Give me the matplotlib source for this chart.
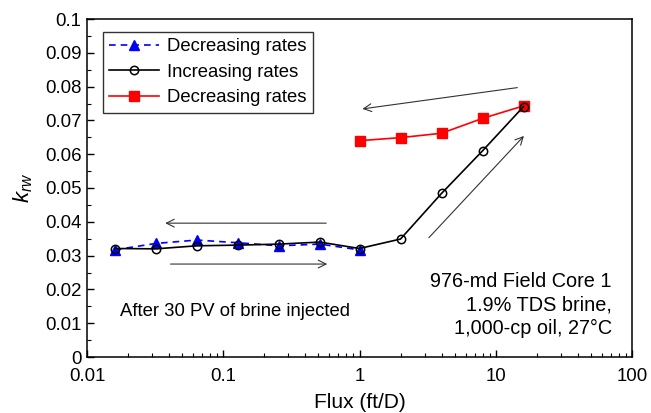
import matplotlib
matplotlib.use("Agg")
import matplotlib.pyplot as plt
from matplotlib.ticker import MultipleLocator, LogLocator, NullFormatter, FixedLocator, FixedFormatter

plt.rcParams['font.family'] = ['Liberation Sans', 'DejaVu Sans']
plt.rcParams['mathtext.fontset'] = 'custom'
plt.rcParams['mathtext.it'] = 'Liberation Sans:italic'
plt.rcParams['mathtext.rm'] = 'Liberation Sans'

# Data
flux_dec1 = [0.016, 0.032, 0.064, 0.128, 0.256, 0.512, 1.0]
krw_dec1 = [0.0317, 0.0336, 0.0346, 0.0338, 0.0329, 0.0334, 0.0317]
flux_inc = [0.016, 0.032, 0.064, 0.128, 0.256, 0.512, 1.0, 2.0, 4.0, 8.0, 16.0]
krw_inc = [0.0321, 0.0320, 0.0329, 0.0331, 0.0334, 0.0340, 0.0321, 0.0349, 0.0484, 0.0610, 0.0741]
flux_dec2 = [1.0, 2.0, 4.0, 8.0, 16.0]
krw_dec2 = [0.0640, 0.0649, 0.0662, 0.0706, 0.0743]

xticks = [0.01, 0.1, 1, 10, 100]
xticklabels = ['0.01', '0.1', '1', '10', '100']
yticks = [0, 0.01, 0.02, 0.03, 0.04, 0.05, 0.06, 0.07, 0.08, 0.09, 0.1]
yticklabels = ['0', '0.01', '0.02', '0.03', '0.04', '0.05', '0.06', '0.07', '0.08', '0.09', '0.1']

# arrows: (x_start, y_start, x_end, y_end)
arrows = [
    (0.57, 0.0396, 0.0375, 0.0396),
    (0.041, 0.0275, 0.58, 0.0275),
    (14.4, 0.0797, 1.05, 0.0734),
    (3.23, 0.0353, 16.1, 0.0654),
]

fig = plt.figure(figsize=(6.51, 4.13), dpi=100)
ax = fig.add_axes([87/651, 1-357/413, (632-87)/651, (357-19)/413])

ax.plot(flux_dec1, krw_dec1, color='blue', ls=(0, (4, 3)), lw=1.2, marker='^',
        ms=6.5, mfc='blue', mec='blue', label='Decreasing rates', zorder=3)
ax.plot(flux_inc, krw_inc, color='black', lw=1.2, marker='o', ms=6,
        mfc='none', mec='black', mew=1.1, label='Increasing rates', zorder=4)
ax.plot(flux_dec2, krw_dec2, color='red', lw=1.2, marker='s', ms=6.5,
        mfc='red', mec='red', label='Decreasing rates', zorder=3)

for xs, ys, xe, ye in arrows:
    ax.annotate('', xy=(xe, ye), xytext=(xs, ys),
                arrowprops=dict(arrowstyle='->', color='#333333', lw=0.8,
                                mutation_scale=14, shrinkA=0, shrinkB=0))

ax.set_xscale('log')
ax.set_xlim(0.01, 100)
ax.set_ylim(0, 0.1)
ax.xaxis.set_major_locator(FixedLocator(xticks))
ax.xaxis.set_major_formatter(FixedFormatter(xticklabels))
ax.xaxis.set_minor_locator(LogLocator(base=10, subs=range(2, 10)))
ax.xaxis.set_minor_formatter(NullFormatter())
ax.yaxis.set_major_locator(FixedLocator(yticks))
ax.yaxis.set_major_formatter(FixedFormatter(yticklabels))
ax.yaxis.set_minor_locator(MultipleLocator(0.005))

ax.tick_params(which='both', direction='in', top=False, right=False, labelsize=13.4)
ax.tick_params(which='major', length=5, width=1)
ax.tick_params(which='minor', length=3, width=0.8)
ax.tick_params(axis='x', pad=8)
ax.tick_params(axis='y', pad=4)
for s in ax.spines.values():
    s.set_linewidth(1.1)

ax.set_xlabel('Flux (ft/D)', fontsize=15, labelpad=6)
ax.set_ylabel('$k_{rw}$', fontsize=16, labelpad=7)

leg = ax.legend(loc='upper left', bbox_to_anchor=(16/545, (357-32)/338), fontsize=13.3,
                frameon=True, fancybox=False, edgecolor='black', handlelength=2.7,
                borderpad=0.35, labelspacing=0.45, handletextpad=0.4, borderaxespad=0)
leg.get_frame().set_linewidth(1.0)

ax.text(0.0175, 0.0136, 'After 30 PV of brine injected', fontsize=13.3, va='center', ha='left')
ax.text(0.963, 0.154, '976-md Field Core 1\n1.9% TDS brine,\n1,000-cp oil, 27°C',
        transform=ax.transAxes, fontsize=14.3, ha='right', va='center', linespacing=1.28)

fig.savefig('out.png', dpi=100)
